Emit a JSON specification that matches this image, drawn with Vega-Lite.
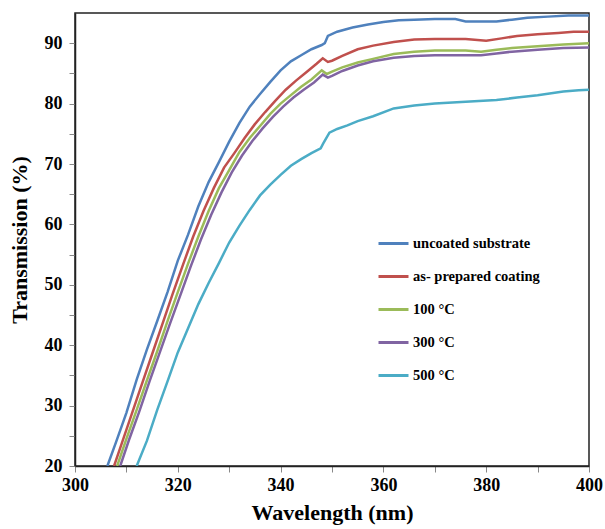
{
  "$schema": "https://vega.github.io/schema/vega-lite/v6.json",
  "width": 514,
  "height": 453,
  "autosize": "none",
  "padding": {"left": 75, "top": 13, "right": 16, "bottom": 63},
  "background": "white",
  "config": {
    "view": {"stroke": "#222", "strokeWidth": 1.5},
    "font": "Liberation Serif"
  },
  "data": {"values": [
    {"s":"uncoated substrate","x":306.3,"y":20},{"s":"uncoated substrate","x":308,"y":24},{"s":"uncoated substrate","x":310,"y":28.8},{"s":"uncoated substrate","x":312,"y":34.3},{"s":"uncoated substrate","x":314,"y":39.3},{"s":"uncoated substrate","x":316,"y":44},{"s":"uncoated substrate","x":318,"y":48.8},{"s":"uncoated substrate","x":320,"y":54},{"s":"uncoated substrate","x":322,"y":58.3},{"s":"uncoated substrate","x":324,"y":63},{"s":"uncoated substrate","x":326,"y":67},{"s":"uncoated substrate","x":328,"y":70.3},{"s":"uncoated substrate","x":330,"y":73.7},{"s":"uncoated substrate","x":332,"y":76.8},{"s":"uncoated substrate","x":334,"y":79.5},{"s":"uncoated substrate","x":336,"y":81.6},{"s":"uncoated substrate","x":338,"y":83.6},{"s":"uncoated substrate","x":340,"y":85.5},{"s":"uncoated substrate","x":342,"y":87},{"s":"uncoated substrate","x":344,"y":88},{"s":"uncoated substrate","x":346,"y":89},{"s":"uncoated substrate","x":348,"y":89.7},{"s":"uncoated substrate","x":348.6,"y":90},{"s":"uncoated substrate","x":349.2,"y":91.2},{"s":"uncoated substrate","x":351,"y":91.9},{"s":"uncoated substrate","x":354,"y":92.6},{"s":"uncoated substrate","x":357,"y":93.1},{"s":"uncoated substrate","x":360,"y":93.5},{"s":"uncoated substrate","x":363,"y":93.8},{"s":"uncoated substrate","x":366,"y":93.9},{"s":"uncoated substrate","x":370,"y":94},{"s":"uncoated substrate","x":374,"y":94},{"s":"uncoated substrate","x":376,"y":93.6},{"s":"uncoated substrate","x":382,"y":93.6},{"s":"uncoated substrate","x":385,"y":93.9},{"s":"uncoated substrate","x":388,"y":94.2},{"s":"uncoated substrate","x":392,"y":94.4},{"s":"uncoated substrate","x":396,"y":94.6},{"s":"uncoated substrate","x":400,"y":94.6},
    {"s":"as- prepared coating","x":307.6,"y":20},{"s":"as- prepared coating","x":309,"y":23.5},{"s":"as- prepared coating","x":311,"y":28.5},{"s":"as- prepared coating","x":313,"y":33.5},{"s":"as- prepared coating","x":315,"y":38.5},{"s":"as- prepared coating","x":317,"y":43.5},{"s":"as- prepared coating","x":319,"y":48.5},{"s":"as- prepared coating","x":321,"y":53.3},{"s":"as- prepared coating","x":323,"y":58},{"s":"as- prepared coating","x":325,"y":62.2},{"s":"as- prepared coating","x":327,"y":66},{"s":"as- prepared coating","x":329,"y":69.4},{"s":"as- prepared coating","x":331,"y":71.8},{"s":"as- prepared coating","x":333,"y":74.3},{"s":"as- prepared coating","x":335,"y":76.6},{"s":"as- prepared coating","x":337,"y":78.6},{"s":"as- prepared coating","x":339,"y":80.5},{"s":"as- prepared coating","x":341,"y":82.3},{"s":"as- prepared coating","x":343,"y":83.8},{"s":"as- prepared coating","x":345,"y":85.2},{"s":"as- prepared coating","x":347,"y":86.6},{"s":"as- prepared coating","x":348.2,"y":87.5},{"s":"as- prepared coating","x":349.2,"y":86.9},{"s":"as- prepared coating","x":350,"y":87.1},{"s":"as- prepared coating","x":352,"y":87.9},{"s":"as- prepared coating","x":355,"y":89},{"s":"as- prepared coating","x":358,"y":89.6},{"s":"as- prepared coating","x":362,"y":90.2},{"s":"as- prepared coating","x":366,"y":90.6},{"s":"as- prepared coating","x":370,"y":90.7},{"s":"as- prepared coating","x":376,"y":90.7},{"s":"as- prepared coating","x":380,"y":90.4},{"s":"as- prepared coating","x":383,"y":90.8},{"s":"as- prepared coating","x":386,"y":91.2},{"s":"as- prepared coating","x":390,"y":91.5},{"s":"as- prepared coating","x":394,"y":91.7},{"s":"as- prepared coating","x":397,"y":91.9},{"s":"as- prepared coating","x":400,"y":91.9},
    {"s":"100 °C","x":308.2,"y":20},{"s":"100 °C","x":310,"y":24.5},{"s":"100 °C","x":312,"y":29.3},{"s":"100 °C","x":314,"y":34.2},{"s":"100 °C","x":316,"y":39},{"s":"100 °C","x":318,"y":44},{"s":"100 °C","x":320,"y":48.8},{"s":"100 °C","x":322,"y":53.5},{"s":"100 °C","x":324,"y":58},{"s":"100 °C","x":326,"y":62.2},{"s":"100 °C","x":328,"y":66},{"s":"100 °C","x":330,"y":69},{"s":"100 °C","x":332,"y":72},{"s":"100 °C","x":334,"y":74.3},{"s":"100 °C","x":336,"y":76.3},{"s":"100 °C","x":338,"y":78.3},{"s":"100 °C","x":340,"y":80},{"s":"100 °C","x":342,"y":81.4},{"s":"100 °C","x":344,"y":82.8},{"s":"100 °C","x":346,"y":84},{"s":"100 °C","x":348,"y":85.5},{"s":"100 °C","x":349,"y":84.9},{"s":"100 °C","x":350,"y":85.3},{"s":"100 °C","x":352,"y":86},{"s":"100 °C","x":355,"y":86.8},{"s":"100 °C","x":358,"y":87.4},{"s":"100 °C","x":362,"y":88.2},{"s":"100 °C","x":366,"y":88.6},{"s":"100 °C","x":370,"y":88.8},{"s":"100 °C","x":376,"y":88.8},{"s":"100 °C","x":379,"y":88.6},{"s":"100 °C","x":382,"y":88.9},{"s":"100 °C","x":385,"y":89.2},{"s":"100 °C","x":390,"y":89.5},{"s":"100 °C","x":395,"y":89.8},{"s":"100 °C","x":400,"y":90},
    {"s":"300 °C","x":308.8,"y":20},{"s":"300 °C","x":310.5,"y":24.3},{"s":"300 °C","x":312.5,"y":29},{"s":"300 °C","x":314.5,"y":34},{"s":"300 °C","x":316.5,"y":38.8},{"s":"300 °C","x":318.5,"y":43.6},{"s":"300 °C","x":320.5,"y":48.3},{"s":"300 °C","x":322.5,"y":53},{"s":"300 °C","x":324.5,"y":57.5},{"s":"300 °C","x":326.5,"y":61.6},{"s":"300 °C","x":328.5,"y":65.3},{"s":"300 °C","x":330.5,"y":68.6},{"s":"300 °C","x":332.5,"y":71.4},{"s":"300 °C","x":334.5,"y":73.8},{"s":"300 °C","x":336.5,"y":75.9},{"s":"300 °C","x":338.5,"y":77.8},{"s":"300 °C","x":340.5,"y":79.5},{"s":"300 °C","x":342.5,"y":81},{"s":"300 °C","x":344.5,"y":82.3},{"s":"300 °C","x":346.5,"y":83.5},{"s":"300 °C","x":348.2,"y":84.8},{"s":"300 °C","x":349.2,"y":84.3},{"s":"300 °C","x":350,"y":84.6},{"s":"300 °C","x":352,"y":85.4},{"s":"300 °C","x":355,"y":86.3},{"s":"300 °C","x":358,"y":87},{"s":"300 °C","x":362,"y":87.6},{"s":"300 °C","x":366,"y":87.9},{"s":"300 °C","x":370,"y":88},{"s":"300 °C","x":379,"y":88},{"s":"300 °C","x":382,"y":88.3},{"s":"300 °C","x":385,"y":88.6},{"s":"300 °C","x":390,"y":88.9},{"s":"300 °C","x":395,"y":89.2},{"s":"300 °C","x":400,"y":89.3},
    {"s":"500 °C","x":312,"y":20},{"s":"500 °C","x":314,"y":24.2},{"s":"500 °C","x":316,"y":29.3},{"s":"500 °C","x":318,"y":34},{"s":"500 °C","x":320,"y":38.8},{"s":"500 °C","x":322,"y":42.8},{"s":"500 °C","x":324,"y":46.8},{"s":"500 °C","x":326,"y":50.3},{"s":"500 °C","x":328,"y":53.6},{"s":"500 °C","x":330,"y":57},{"s":"500 °C","x":332,"y":59.8},{"s":"500 °C","x":334,"y":62.4},{"s":"500 °C","x":336,"y":64.8},{"s":"500 °C","x":338,"y":66.6},{"s":"500 °C","x":340,"y":68.2},{"s":"500 °C","x":342,"y":69.7},{"s":"500 °C","x":344,"y":70.8},{"s":"500 °C","x":346,"y":71.8},{"s":"500 °C","x":347.8,"y":72.6},{"s":"500 °C","x":348.3,"y":73.4},{"s":"500 °C","x":349.5,"y":75.2},{"s":"500 °C","x":351,"y":75.8},{"s":"500 °C","x":353,"y":76.4},{"s":"500 °C","x":355,"y":77.1},{"s":"500 °C","x":358,"y":77.9},{"s":"500 °C","x":362,"y":79.2},{"s":"500 °C","x":366,"y":79.7},{"s":"500 °C","x":370,"y":80},{"s":"500 °C","x":376,"y":80.3},{"s":"500 °C","x":382,"y":80.6},{"s":"500 °C","x":386,"y":81},{"s":"500 °C","x":390,"y":81.4},{"s":"500 °C","x":395,"y":82},{"s":"500 °C","x":398,"y":82.2},{"s":"500 °C","x":400,"y":82.3}
  ]},
  "mark": {"type": "line", "strokeWidth": 2.5, "clip": true},
  "encoding": {
    "x": {
      "field": "x", "type": "quantitative",
      "scale": {"domain": [300, 400], "nice": false, "zero": false},
      "axis": {
        "title": "Wavelength (nm)",
        "values": [300,310,320,330,340,350,360,370,380,390,400],
        "labelExpr": "datum.value % 20 == 0 ? datum.label : ''",
        "grid": false, "domainColor": "#222", "domainWidth": 1.5,
        "tickColor": "#888", "tickSize": 6, "tickWidth": 1,
        "labelFont": "Liberation Serif", "labelFontWeight": "bold", "labelFontSize": 18, "labelColor": "#000", "labelPadding": 4,
        "labelFlush": false, "labelOverlap": false,
        "titleFont": "Liberation Serif", "titleFontWeight": "bold", "titleFontSize": 22, "titleColor": "#000", "titlePadding": 8
      }
    },
    "y": {
      "field": "y", "type": "quantitative",
      "scale": {"domain": [20, 95], "nice": false, "zero": false},
      "axis": {
        "title": "Transmission (%)",
        "values": [20,25,30,35,40,45,50,55,60,65,70,75,80,85,90],
        "labelExpr": "datum.value % 10 == 0 ? datum.label : ''",
        "grid": false, "domainColor": "#222", "domainWidth": 1.5,
        "tickColor": "#888", "tickSize": 6, "tickWidth": 1,
        "labelFont": "Liberation Serif", "labelFontWeight": "bold", "labelFontSize": 18, "labelColor": "#000", "labelPadding": 7,
        "labelFlush": false, "labelOverlap": false,
        "titleFont": "Liberation Serif", "titleFontWeight": "bold", "titleFontSize": 22, "titleColor": "#000", "titlePadding": 13
      }
    },
    "color": {
      "field": "s", "type": "nominal",
      "scale": {
        "domain": ["uncoated substrate", "as- prepared coating", "100 °C", "300 °C", "500 °C"],
        "range": ["#4F81BD", "#C0504D", "#9BBB59", "#8064A2", "#4BACC6"]
      },
      "legend": {
        "title": null, "orient": "none", "legendX": 302, "legendY": 214,
        "symbolType": "stroke", "symbolSize": 900, "symbolStrokeWidth": 3,
        "labelFont": "Liberation Serif", "labelFontWeight": "bold", "labelFontSize": 14.5, "labelColor": "#000",
        "labelOffset": 3, "rowPadding": 10, "labelLimit": 300
      }
    }
  }
}
